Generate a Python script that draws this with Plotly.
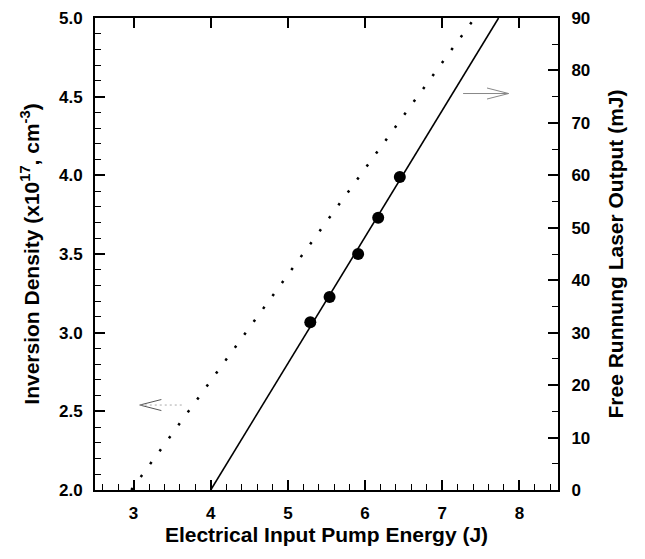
import plotly.graph_objects as go

# Data
pump_energy_pts = [5.29, 5.54, 5.91, 6.17, 6.45]      # J
laser_output_pts = [32.0, 36.8, 45.0, 51.9, 59.7]     # mJ

fit_laser_x = [4.0, 7.73]       # J
fit_laser_y = [0.0, 90.0]       # mJ

fit_inv_x = [2.97, 7.42]        # J
fit_inv_y = [2.0, 5.0]          # x1e17 cm^-3

x_ticks = [3, 4, 5, 6, 7, 8]
y_left_ticks = [2.0, 2.5, 3.0, 3.5, 4.0, 4.5, 5.0]
y_right_ticks = [0, 10, 20, 30, 40, 50, 60, 70, 80, 90]

FONT = "Liberation Sans, Arial, sans-serif"
tickfont = dict(family=FONT, size=17, color="black", weight="bold")
titlefont = dict(family=FONT, size=21, color="black", weight="bold")

fig = go.Figure()

fig.add_trace(go.Scatter(
    x=fit_inv_x, y=fit_inv_y, mode="lines",
    line=dict(color="black", width=2.5, dash="2.5px,13.5px"),
    xaxis="x", yaxis="y", showlegend=False, hoverinfo="skip"))

fig.add_trace(go.Scatter(
    x=fit_laser_x, y=fit_laser_y, mode="lines",
    line=dict(color="black", width=1.6),
    xaxis="x", yaxis="y2", showlegend=False, hoverinfo="skip"))

fig.add_trace(go.Scatter(
    x=pump_energy_pts, y=laser_output_pts, mode="markers",
    marker=dict(color="black", size=12),
    xaxis="x", yaxis="y2", showlegend=False))

# dummy trace to enable the top axis
fig.add_trace(go.Scatter(
    x=[3], y=[2.0], mode="markers", marker=dict(opacity=0),
    xaxis="x2", yaxis="y", showlegend=False, hoverinfo="skip"))

# Arrows (drawn as shapes in data coords of left axis)
arrow_col = "#888888"
shapes = [
    dict(type="line", x0=3.08, y0=2.54, x1=3.36, y1=2.575, xref="x", yref="y",
         line=dict(color="#555555", width=1)),
    dict(type="line", x0=3.08, y0=2.54, x1=3.36, y1=2.505, xref="x", yref="y",
         line=dict(color="#555555", width=1)),
    dict(type="line", x0=3.08, y0=2.54, x1=3.66, y1=2.54, xref="x", yref="y",
         line=dict(color="#aaaaaa", width=1, dash="2px,3px")),
    dict(type="line", x0=7.27, y0=4.52, x1=7.86, y1=4.52, xref="x", yref="y",
         line=dict(color=arrow_col, width=1)),
    dict(type="line", x0=7.86, y0=4.52, x1=7.58, y1=4.555, xref="x", yref="y",
         line=dict(color=arrow_col, width=1)),
    dict(type="line", x0=7.86, y0=4.52, x1=7.58, y1=4.485, xref="x", yref="y",
         line=dict(color=arrow_col, width=1)),
]

fig.update_layout(
    width=645, height=559,
    margin=dict(l=87, r=95, t=10, b=77, autoexpand=False),
    paper_bgcolor="white", plot_bgcolor="white",
    shapes=shapes,
    xaxis=dict(
        range=[2.5, 8.5], tickvals=x_ticks, ticktext=[str(v) for v in x_ticks],
        ticks="inside", ticklen=10, tickwidth=1.5, tickcolor="black",
        showline=True, linecolor="black", linewidth=2,
        showgrid=False, zeroline=False, tickfont=tickfont,
        ticklabelstandoff=7, automargin=False,
        minor=dict(dtick=0.2, tick0=0, ticks="inside", ticklen=6,
                   tickwidth=1.2, tickcolor="black", showgrid=False),
        title=dict(text="Electrical Input Pump Energy (J)", font=titlefont, standoff=1),
    ),
    xaxis2=dict(
        overlaying="x", side="top", matches="x", range=[2.5, 8.5],
        tickvals=x_ticks, showticklabels=False, automargin=False,
        ticks="inside", ticklen=10, tickwidth=1.5, tickcolor="black",
        showline=True, linecolor="black", linewidth=2,
        showgrid=False, zeroline=False,
    ),
    yaxis=dict(
        range=[2.0, 5.0], tickvals=y_left_ticks,
        ticktext=[f"{v:.1f}" for v in y_left_ticks],
        ticks="inside", ticklen=10, tickwidth=1.5, tickcolor="black",
        showline=True, linecolor="black", linewidth=2,
        showgrid=False, zeroline=False, tickfont=tickfont,
        ticklabelstandoff=7, automargin=False,
        minor=dict(dtick=0.1, tick0=0, ticks="inside", ticklen=6,
                   tickwidth=1.2, tickcolor="black", showgrid=False),
        title=dict(text="Inversion Density (x10<sup>17</sup>, cm<sup>-3</sup>)",
                   font=titlefont, standoff=14),
    ),
    yaxis2=dict(
        overlaying="y", side="right", range=[0, 90], tickvals=y_right_ticks,
        ticks="inside", ticklen=10, tickwidth=1.5, tickcolor="black",
        showline=True, linecolor="black", linewidth=2,
        showgrid=False, zeroline=False, tickfont=tickfont,
        ticklabelstandoff=8, automargin=False,
        minor=dict(dtick=5, tick0=0, ticks="inside", ticklen=6,
                   tickwidth=1.2, tickcolor="black", showgrid=False),
        title=dict(text="Free Runnung Laser Output (mJ)", font=titlefont, standoff=19),
    ),
)

fig.write_html("out.html")
